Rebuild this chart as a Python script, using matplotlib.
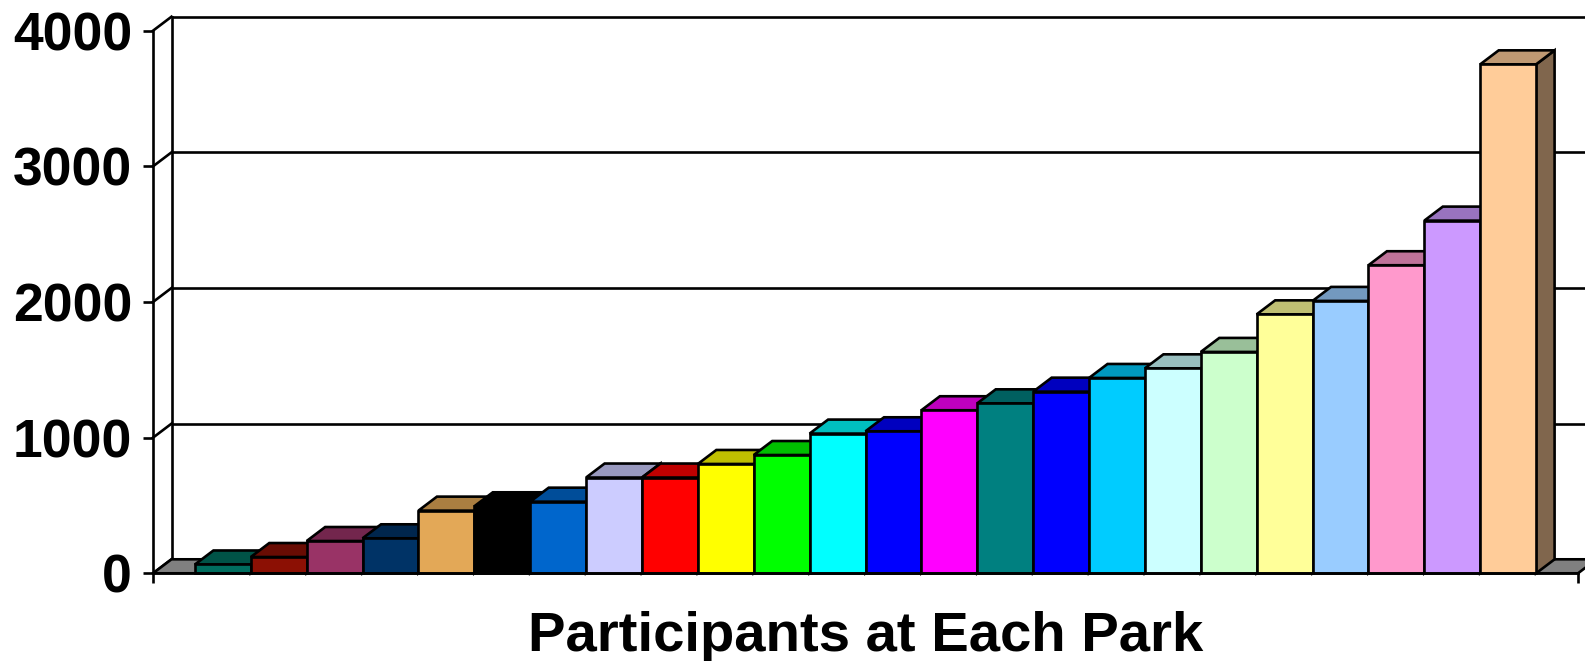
import numpy as np
import matplotlib
matplotlib.use('Agg')
import matplotlib.pyplot as plt
from matplotlib.patches import Polygon
from matplotlib.colors import to_rgb

plt.rcParams['font.family'] = ['Liberation Sans', 'DejaVu Sans']
plt.rcParams['font.weight'] = 'bold'

# Participants per park, smallest to largest
participants = [65, 120, 238, 258, 462, 494, 528, 706, 706, 806, 872, 1030,
                1047, 1202, 1253, 1339, 1440, 1511, 1632, 1909, 2008, 2271,
                2600, 3752]
bar_colors = ['#006E5F', '#8C1004', '#993366', '#003366', '#E3A857', '#000000',
              '#0066CC', '#CCCCFF', '#FF0000', '#FFFF00', '#00FF00', '#00FFFF',
              '#0000FF', '#FF00FF', '#008080', '#0000FF', '#00CCFF', '#CCFFFF',
              '#CCFFCC', '#FFFF99', '#99CCFF', '#FF99CC', '#CC99FF', '#FFCC99']
y_ticks = [0, 1000, 2000, 3000, 4000]
title = 'Participants at Each Park'

W, H = 1585, 661
fig = plt.figure(figsize=(W / 100, H / 100), dpi=100)

# front plane of the plot area in pixels
left, right, base, top = 153, 1578, 573.3, 30.7
ax = fig.add_axes([left / W, (H - base) / H, (right - left) / W, (base - top) / H])

n = len(participants)
gap = 0.75                     # half of the 150% gap width, in bar widths
xmax = n + 2 * gap
ax.set_xlim(0, xmax)
ax.set_ylim(0, 4000)

# oblique depth offset (18.5 px right, 14 px up) in data units
px_x = (right - left) / xmax
px_y = (base - top) / 4000
ddx = 18.5 / px_x
ddy = 14.0 / px_y
lw = 1.9

# back wall, side wall and gridlines
for v in y_ticks:
    ax.plot([ddx, xmax + ddx], [v + ddy, v + ddy], color='black', lw=lw,
            clip_on=False, zorder=1, solid_capstyle='butt')
    ax.plot([0, ddx], [v, v + ddy], color='black', lw=lw, clip_on=False, zorder=1)
ax.plot([ddx, ddx], [ddy, 4000 + ddy], color='black', lw=lw, clip_on=False, zorder=1)

# floor
floor = Polygon([(0, 0), (xmax, 0), (xmax + ddx, ddy), (ddx, ddy)],
                closed=True, facecolor='#808080', edgecolor='black', lw=lw,
                clip_on=False, zorder=1.5)
ax.add_patch(floor)

# bars: front face, top face and right side face
for i, (v, c) in enumerate(zip(participants, bar_colors)):
    x0 = gap + i
    rgb = np.array(to_rgb(c))
    z = 2 + i * 0.1
    side = Polygon([(x0 + 1, 0), (x0 + 1 + ddx, ddy), (x0 + 1 + ddx, v + ddy), (x0 + 1, v)],
                   closed=True, facecolor=rgb * 0.5, edgecolor='black', lw=lw,
                   clip_on=False, zorder=z, joinstyle='miter')
    topf = Polygon([(x0, v), (x0 + 1, v), (x0 + 1 + ddx, v + ddy), (x0 + ddx, v + ddy)],
                   closed=True, facecolor=rgb * 0.75, edgecolor='black', lw=lw,
                   clip_on=False, zorder=z, joinstyle='miter')
    ax.add_patch(side)
    ax.add_patch(topf)
    ax.bar(x0, v, width=1, align='edge', color=c, edgecolor='black', lw=lw,
           zorder=z + 0.05, clip_on=False)

for s in ['top', 'right']:
    ax.spines[s].set_visible(False)
for s in ['left', 'bottom']:
    ax.spines[s].set_linewidth(lw)
    ax.spines[s].set_zorder(10)
ax.patch.set_visible(False)

ax.set_yticks(y_ticks)
ax.set_yticklabels([str(t) for t in y_ticks], fontsize=38.5, fontweight='bold')
ax.tick_params(axis='y', length=7.2, width=lw, pad=7.9)
ax.set_xticks([0, xmax])
ax.set_xticklabels([])
ax.tick_params(axis='x', length=7.2, width=lw)

fig.text((left + right) / 2 / W, (H - 651) / H, title, ha='center', va='baseline',
         fontsize=40.5, fontweight='bold')

fig.savefig('out.png', dpi=100)
